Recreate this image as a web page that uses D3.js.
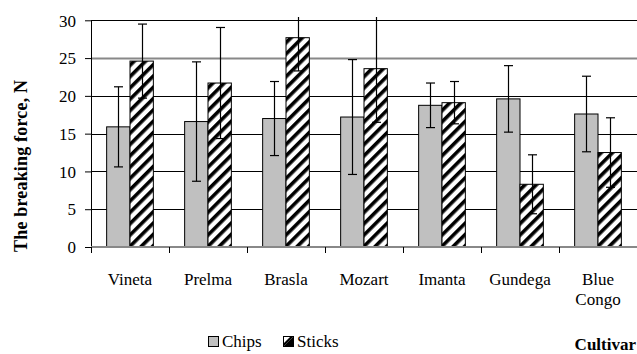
<!DOCTYPE html>
<html><head><meta charset="utf-8">
<script src="https://cdn.jsdelivr.net/npm/d3@7"></script>
<style>body{margin:0;background:#fff}svg{display:block}svg text{font-family:"Liberation Serif","Times New Roman",serif;fill:#000}</style>
</head><body><svg id="c" width="637" height="354" font-family="Liberation Serif"></svg>
<script>
const categories = ["Vineta","Prelma","Brasla","Mozart","Imanta","Gundega","Blue Congo"];
const series = ["Chips","Sticks"];
const chipsValues = [15.9,16.6,17.0,17.2,18.75,19.6,17.6];
const chipsErrors = [5.3,7.9,4.9,7.6,2.95,4.4,5.0];
const sticksValues = [24.6,21.7,27.7,23.6,19.1,8.3,12.5];
const sticksErrors = [4.9,7.35,4.4,7.1,2.8,3.9,4.6];
const yTicks = [0,5,10,15,20,25,30];
const yTitle = "The breaking force, N";
const xTitle = "Cultivar";

(function(){
const FF = "Liberation Serif";
const svg = d3.select("#c");
const pl = 91, pr = 637, pt = 20.3, pb = 247;
const x0 = d3.scaleBand().domain(categories).range([pl,pr]).padding(0);
const x1 = d3.scaleBand().domain(series).range([0,x0.bandwidth()]).paddingInner(0).paddingOuter(0.67);
const y = d3.scaleLinear().domain([0,30]).range([pb,pt]);

const defs = svg.append("defs");
const pat = defs.append("pattern").attr("id","hatch").attr("patternUnits","userSpaceOnUse")
  .attr("width",8).attr("height",8).attr("patternTransform","rotate(45)");
pat.append("rect").attr("width",8).attr("height",8).attr("fill","#fff");
pat.append("rect").attr("width",3.6).attr("height",8).attr("fill","#000");
defs.append("clipPath").attr("id","clip").append("rect")
  .attr("x",0).attr("y",17).attr("width",637).attr("height",340);

// gridlines
svg.append("g").selectAll("line").data(yTicks.filter(d=>d>0)).join("line")
  .attr("x1",pl).attr("x2",pr)
  .attr("y1",d=>Math.round(y(d))+0.5).attr("y2",d=>Math.round(y(d))+0.5)
  .attr("stroke",d=>d===25?"#888":"#000").attr("stroke-width",d=>d===25?2:1);

// y axis
const yAxis = svg.append("g").attr("transform",`translate(${pl},0)`)
  .call(d3.axisLeft(y).tickValues(yTicks).tickSize(6).tickPadding(9));
yAxis.attr("font-family",FF).attr("font-size",17);
yAxis.select(".domain").attr("stroke","#000").attr("d",`M0.5,${pt}V${pb}`);
yAxis.selectAll(".tick line").attr("stroke","#000");
yAxis.selectAll("text").attr("font-size",17).attr("font-family",FF).attr("dy","0.34em");

// bars
const data = categories.map((c,i)=>({c, vals:[
  {s:"Chips", v:chipsValues[i], e:chipsErrors[i]},
  {s:"Sticks", v:sticksValues[i], e:sticksErrors[i]}]}));
const g = svg.append("g").selectAll("g").data(data).join("g")
  .attr("transform",d=>`translate(${x0(d.c)},0)`);
g.selectAll("rect").data(d=>d.vals).join("rect")
  .attr("x",d=>x1(d.s)).attr("y",d=>y(d.v))
  .attr("width",x1.bandwidth()).attr("height",d=>y(0)-y(d.v))
  .attr("fill",d=>d.s==="Chips"?"#c0c0c0":"url(#hatch)")
  .attr("stroke","#000").attr("stroke-width",1);

// error bars
const eb = g.selectAll("g.err").data(d=>d.vals).join("g").attr("class","err")
  .attr("clip-path","url(#clip)").attr("stroke","#000").attr("stroke-width",1.2);
const cx = d=>Math.round(x1(d.s)+x1.bandwidth()/2)+0.5;
eb.append("line").attr("x1",cx).attr("x2",cx).attr("y1",d=>y(d.v+d.e)).attr("y2",d=>y(d.v-d.e));
eb.append("line").attr("x1",d=>cx(d)-4.5).attr("x2",d=>cx(d)+4.5).attr("y1",d=>y(d.v+d.e)).attr("y2",d=>y(d.v+d.e));
eb.append("line").attr("x1",d=>cx(d)-4.5).attr("x2",d=>cx(d)+4.5).attr("y1",d=>y(d.v-d.e)).attr("y2",d=>y(d.v-d.e));

// x axis
svg.append("line").attr("x1",pl).attr("x2",pr).attr("y1",pb).attr("y2",pb)
  .attr("stroke","#888").attr("stroke-width",2);
const bounds = categories.map(c=>x0(c)).concat([pr]);
svg.append("g").selectAll("line").data(bounds).join("line")
  .attr("x1",d=>Math.round(d)+0.5).attr("x2",d=>Math.round(d)+0.5).attr("y1",pb).attr("y2",pb+6)
  .attr("stroke","#000");
const lab = svg.append("g").selectAll("text").data(categories).join("text")
  .attr("x",d=>x0(d)+x0.bandwidth()/2).attr("y",285).attr("text-anchor","middle")
  .attr("font-size",17).attr("font-family",FF);
lab.each(function(d){
  const words = d==="Blue Congo" ? ["Blue","Congo"] : [d];
  const t = d3.select(this);
  words.forEach((w,i)=>t.append("tspan").attr("x",x0(d)+x0.bandwidth()/2).attr("dy",i?20:0).text(w));
});

// titles
svg.append("text").attr("transform","translate(27,166) rotate(-90)").attr("text-anchor","middle")
  .attr("font-family",FF).attr("font-size",18).attr("font-weight","bold")
  .attr("textLength",172).attr("lengthAdjust","spacing").text(yTitle);
svg.append("text").attr("x",636).attr("y",350).attr("text-anchor","end").attr("font-size",17)
  .attr("font-family",FF).attr("font-weight","bold").text(xTitle);

// legend
const lg = svg.append("g").attr("font-family",FF);
lg.append("rect").attr("x",208.5).attr("y",336.5).attr("width",10).attr("height",10).attr("fill","#c0c0c0").attr("stroke","#000");
lg.append("text").attr("x",222).attr("y",347).attr("font-size",17).attr("font-family",FF).text(series[0]);
lg.append("rect").attr("x",283.5).attr("y",336.5).attr("width",10).attr("height",10).attr("fill","#fff").attr("stroke","#000");
lg.append("path").attr("d","M283.5,346.5L293.5,336.5L293.5,346.5Z").attr("fill","#000");
lg.append("path").attr("d","M283.5,343.5L290.5,336.5L293.5,336.5L283.5,346.5Z").attr("fill","#000");
lg.append("text").attr("x",297).attr("y",347).attr("font-size",17).attr("font-family",FF).text(series[1]);
})();
</script></body></html>
